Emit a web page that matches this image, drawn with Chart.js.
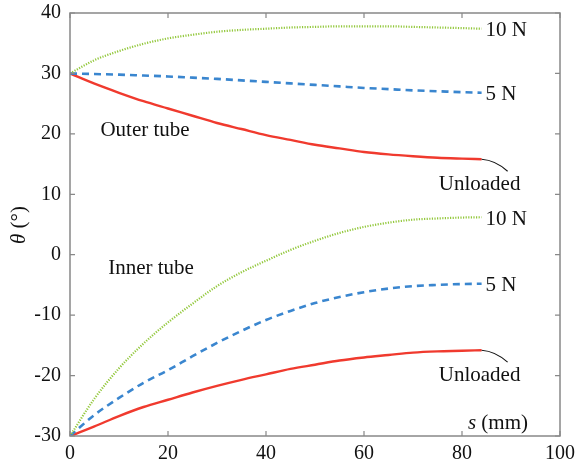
<!DOCTYPE html>
<html><head><meta charset="utf-8">
<script src="https://cdn.jsdelivr.net/npm/chart.js@4/dist/chart.umd.min.js"></script>
<style>html,body{margin:0;padding:0;background:#fff}#wrap{width:580px;height:462px}</style>
</head><body><div id="wrap"><canvas id="c" width="580" height="462"></canvas></div>
<script>
const s = [0,5,10,15,20,25,30,35,40,45,50,55,60,65,70,75,80,84];
const outer10 = [30,32.2,33.7,34.9,35.8,36.4,36.9,37.2,37.4,37.6,37.7,37.8,37.8,37.8,37.7,37.6,37.5,37.4];
const outer5  = [30,29.9,29.8,29.65,29.5,29.3,29.1,28.85,28.6,28.35,28.1,27.85,27.6,27.4,27.2,27.05,26.9,26.8];
const outer0  = [30,28.3,26.8,25.4,24.2,23.0,21.8,20.8,19.8,19.0,18.2,17.6,17.0,16.6,16.3,16.05,15.9,15.8];
const inner10 = [-30,-23.8,-18.8,-14.7,-11.2,-8.1,-5.2,-2.9,-1.0,0.8,2.3,3.6,4.6,5.3,5.8,6.0,6.15,6.2];
const inner5  = [-30,-26.5,-23.7,-21.2,-19.1,-16.8,-14.6,-12.6,-10.8,-9.3,-8.0,-7.0,-6.2,-5.6,-5.2,-5.0,-4.85,-4.8];
const inner0  = [-30,-28.4,-26.7,-25.2,-24.0,-22.8,-21.7,-20.7,-19.8,-18.9,-18.2,-17.5,-17.0,-16.6,-16.2,-16.0,-15.9,-15.8];
const xTicks = [0,20,40,60,80,100];
const yTicks = [-30,-20,-10,0,10,20,30,40];
const lineLabels = ['10 N','5 N','Unloaded','10 N','5 N','Unloaded'];
const groupLabels = ['Outer tube','Inner tube'];

const GREEN='#93c83c', BLUE='#3a86cf', RED='#f03a2e';
const pts = arr => s.map((x,i)=>({x:x,y:arr[i]}));
function ds(arr,color,style){
  const d={data:pts(arr),borderColor:color,pointRadius:0,fill:false,cubicInterpolationMode:'monotone',borderWidth:2.4};
  if(style==='dot'){d.borderDash=[1.2,1.4];d.borderWidth=2.2;}
  if(style==='dash'){d.borderDash=[7,5];d.borderWidth=2.6;}
  return d;
}
const SERIF='"Liberation Serif","DejaVu Serif",serif';
const LF='21px '+SERIF, LFI='italic 21px '+SERIF;

const deco = {
  id:'deco',
  afterDraw(chart){
    const ctx=chart.ctx, xs=chart.scales.x, ys=chart.scales.y, a=chart.chartArea;
    ctx.save();
    ctx.strokeStyle='#888'; ctx.lineWidth=1.5;
    ctx.strokeRect(a.left,a.top,a.right-a.left,a.bottom-a.top);
    ctx.lineWidth=1.2;
    xTicks.forEach(v=>{const p=xs.getPixelForValue(v);
      ctx.beginPath();ctx.moveTo(p,a.bottom);ctx.lineTo(p,a.bottom-5);ctx.moveTo(p,a.top);ctx.lineTo(p,a.top+5);ctx.stroke();});
    yTicks.forEach(v=>{const p=ys.getPixelForValue(v);
      ctx.beginPath();ctx.moveTo(a.left,p);ctx.lineTo(a.left+5,p);ctx.moveTo(a.right,p);ctx.lineTo(a.right-5,p);ctx.stroke();});
    ctx.fillStyle='#111'; ctx.font=LF; ctx.textBaseline='middle'; ctx.textAlign='left';
    const n=s.length-1, xe=xs.getPixelForValue(s[n]);
    const ends=[outer10[n],outer5[n],outer0[n],inner10[n],inner5[n],inner0[n]];
    [0,1,3,4].forEach(i=>{ctx.fillText(lineLabels[i], xe+4, ys.getPixelForValue(ends[i])+2);});
    [2,5].forEach(i=>{
      const y0=ys.getPixelForValue(ends[i]);
      ctx.strokeStyle='#111';ctx.lineWidth=1.1;
      ctx.beginPath();ctx.moveTo(xe,y0);ctx.quadraticCurveTo(xe+14,y0+1,xe+26,y0+12);ctx.stroke();
      ctx.textAlign='center';ctx.fillText(lineLabels[i], xe-2, y0+25);ctx.textAlign='left';
    });
    ctx.fillText(groupLabels[0], xs.getPixelForValue(6.2), ys.getPixelForValue(20.5));
    ctx.fillText(groupLabels[1], xs.getPixelForValue(7.8), ys.getPixelForValue(-2.3));
    ctx.font=LFI; const w1=ctx.measureText('s').width;
    ctx.font=LF; const w2=ctx.measureText(' (mm)').width;
    const sx=528-(w1+w2), sy=423;
    ctx.font=LFI; ctx.fillText('s',sx,sy);
    ctx.font=LF; ctx.fillText(' (mm)',sx+w1,sy);
    ctx.translate(19,225); ctx.rotate(-Math.PI/2);
    ctx.font=LFI; const t1=ctx.measureText('θ').width;
    ctx.font=LF; const t2=ctx.measureText(' (°)').width;
    const tx=-(t1+t2)/2;
    ctx.font=LFI; ctx.fillText('θ',tx,0);
    ctx.font=LF; ctx.fillText(' (°)',tx+t1,0);
    ctx.restore();
  }
};

new Chart(document.getElementById('c'),{
  type:'line',
  data:{datasets:[ds(outer10,GREEN,'dot'),ds(outer5,BLUE,'dash'),ds(outer0,RED),ds(inner10,GREEN,'dot'),ds(inner5,BLUE,'dash'),ds(inner0,RED)]},
  options:{
    responsive:false,animation:false,
    layout:{padding:{top:13,right:20,left:0,bottom:0}},
    plugins:{legend:{display:false},tooltip:{enabled:false}},
    scales:{
      x:{type:'linear',min:0,max:100,
        afterBuildTicks(sc){sc.ticks=xTicks.map(v=>({value:v}));},
        afterFit(sc){sc.height=26;sc.paddingLeft=0;sc.paddingRight=0;},
        grid:{display:false,drawTicks:false},border:{display:false},
        ticks:{color:'#111',font:{family:SERIF,size:20},padding:6,maxRotation:0}},
      y:{type:'linear',min:-30,max:40,
        afterBuildTicks(sc){sc.ticks=yTicks.map(v=>({value:v}));},
        afterFit(sc){sc.width=70;sc.paddingTop=0;sc.paddingBottom=0;},
        grid:{display:false,drawTicks:false},border:{display:false},
        ticks:{color:'#111',font:{family:SERIF,size:20},padding:9}}
    }
  },
  plugins:[deco]
});
</script></body></html>
